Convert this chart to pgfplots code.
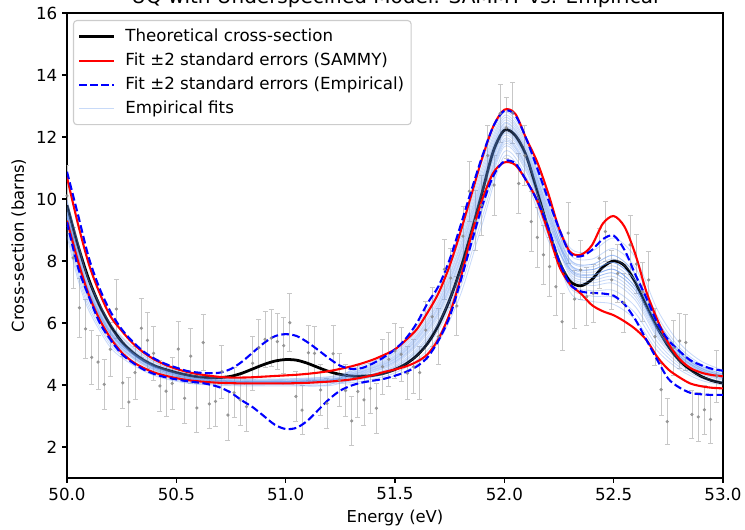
\documentclass[border=0pt]{standalone}
\usepackage{fontspec}
\setmainfont{DejaVu Sans}
\usepackage{pgfplots}
\usepackage{pgfplotstable}
\pgfplotsset{compat=1.18}
\definecolor{empblue}{RGB}{100,149,237}

\pgfplotstableread{
x y e
50.000 10.10 0.97
50.028 8.10 0.97
50.057 6.49 0.95
50.085 5.81 0.94
50.113 4.89 0.88
50.142 4.74 0.87
50.170 4.02 0.80
50.198 5.15 0.87
50.226 6.45 0.95
50.255 4.07 0.84
50.283 3.45 0.80
50.311 4.40 0.85
50.340 5.83 0.95
50.368 5.44 0.90
50.396 5.02 0.88
50.425 3.97 0.82
50.453 3.80 0.82
50.481 4.05 0.84
50.509 5.16 0.89
50.538 3.57 0.80
50.566 4.93 0.88
50.594 3.26 0.78
50.623 5.37 0.90
50.651 3.39 0.79
50.679 3.47 0.80
50.708 4.43 0.86
50.736 3.03 0.81
50.764 3.75 0.81
50.792 3.52 0.82
50.821 3.30 0.80
50.849 4.70 0.88
50.877 5.20 0.91
50.906 5.47 0.90
50.934 5.51 0.92
50.962 5.40 0.90
50.991 5.27 0.90
51.019 6.01 0.94
51.047 3.63 0.81
51.075 3.19 0.80
51.104 5.04 0.88
51.132 5.02 0.88
51.160 3.84 0.83
51.189 3.41 0.81
51.217 5.01 0.90
51.245 4.16 0.85
51.274 3.82 0.84
51.302 2.84 0.79
51.330 3.79 0.83
51.358 3.52 0.82
51.387 3.89 0.81
51.415 3.25 0.81
51.443 4.59 0.88
51.472 4.83 0.88
51.500 5.10 0.89
51.528 4.99 0.88
51.557 4.38 0.86
51.585 4.59 0.87
51.613 4.40 0.86
51.641 5.77 0.93
51.670 6.20 0.94
51.698 5.56 0.90
51.726 7.73 0.96
51.755 7.45 0.96
51.783 6.55 0.95
51.811 8.80 0.97
51.840 10.25 0.97
51.868 9.30 0.97
51.896 9.80 0.97
51.924 11.40 0.96
51.953 10.45 0.97
51.981 12.76 0.95
52.009 12.30 0.98
52.038 12.78 0.98
52.066 10.50 0.97
52.094 11.40 0.97
52.123 9.27 0.96
52.151 8.76 0.96
52.179 8.20 0.96
52.207 7.82 0.95
52.236 7.17 0.94
52.264 6.04 0.93
52.292 8.90 0.98
52.321 6.77 0.94
52.349 7.71 0.95
52.377 6.85 0.94
52.406 6.96 0.94
52.434 8.09 0.96
52.462 8.95 0.97
52.491 7.39 0.95
52.519 7.60 0.95
52.547 6.65 0.94
52.575 8.52 0.96
52.604 7.90 0.96
52.632 7.00 0.95
52.660 7.39 0.91
52.689 5.56 0.92
52.717 3.85 0.84
52.745 2.82 0.75
52.774 5.20 0.89
52.802 5.42 0.90
52.830 5.37 0.90
52.858 3.05 0.78
52.887 2.97 0.78
52.915 3.20 0.79
52.943 2.89 0.78
52.972 4.28 0.85
}\pts

\pgfplotstableread{
x th su sl eu el
50.00 9.80 10.70 9.30 10.88 9.25
50.05 8.50 9.20 8.00 9.50 7.80
50.10 7.40 7.90 6.90 8.10 6.85
50.15 6.55 6.95 6.10 7.10 6.00
50.20 5.90 6.20 5.50 6.35 5.45
50.25 5.40 5.75 5.05 5.80 5.00
50.30 5.05 5.35 4.75 5.40 4.72
50.35 4.80 5.05 4.55 5.08 4.50
50.40 4.62 4.82 4.40 4.85 4.35
50.45 4.50 4.65 4.30 4.68 4.25
50.50 4.40 4.52 4.22 4.56 4.18
50.55 4.32 4.42 4.16 4.45 4.12
50.60 4.26 4.35 4.12 4.40 4.08
50.65 4.24 4.30 4.09 4.38 4.02
50.70 4.24 4.26 4.07 4.40 3.92
50.75 4.28 4.24 4.06 4.52 3.75
50.80 4.38 4.24 4.05 4.75 3.50
50.85 4.52 4.25 4.05 5.05 3.28
50.90 4.66 4.27 4.05 5.35 3.00
50.95 4.77 4.29 4.05 5.57 2.72
51.00 4.82 4.31 4.05 5.64 2.58
51.05 4.80 4.33 4.06 5.58 2.62
51.10 4.70 4.36 4.07 5.38 2.85
51.15 4.56 4.40 4.09 5.12 3.20
51.20 4.43 4.45 4.11 4.85 3.55
51.25 4.34 4.52 4.14 4.62 3.82
51.30 4.29 4.60 4.18 4.52 3.98
51.35 4.28 4.70 4.24 4.55 4.08
51.40 4.31 4.82 4.32 4.70 4.14
51.45 4.38 4.97 4.42 4.90 4.20
51.50 4.50 5.15 4.50 5.15 4.30
51.55 4.68 5.45 4.60 5.50 4.42
51.60 4.95 5.80 4.75 6.00 4.60
51.65 5.35 6.35 5.00 6.65 4.90
51.70 5.95 6.98 5.50 7.20 5.45
51.75 6.75 7.85 6.30 8.05 6.20
51.80 7.75 8.95 7.45 9.15 7.35
51.85 8.95 10.15 8.85 10.30 8.60
51.90 10.25 11.35 10.00 11.40 9.80
51.95 11.55 12.35 10.85 12.35 10.75
52.00 12.22 12.88 11.18 12.85 11.22
52.05 12.05 12.75 11.10 12.70 11.15
52.10 11.40 11.95 10.60 11.95 10.60
52.15 10.25 11.20 9.95 11.00 9.95
52.20 9.05 10.20 8.95 10.00 9.10
52.25 8.00 9.05 7.85 9.05 8.00
52.30 7.35 8.30 7.25 8.25 7.25
52.35 7.20 8.20 6.95 8.15 7.02
52.40 7.40 8.50 6.58 8.35 6.97
52.45 7.80 9.20 6.38 8.70 6.95
52.50 8.00 9.45 6.25 8.82 6.88
52.55 7.85 9.10 6.05 8.35 6.60
52.60 7.30 8.20 5.80 7.55 6.10
52.65 6.55 7.00 5.45 6.80 5.45
52.70 5.85 6.10 4.90 6.00 4.80
52.75 5.25 5.35 4.50 5.45 4.20
52.80 4.80 4.85 4.25 5.10 3.92
52.85 4.50 4.55 4.05 4.80 3.75
52.90 4.28 4.40 3.96 4.64 3.70
52.95 4.14 4.32 3.91 4.52 3.68
53.00 4.06 4.28 3.89 4.46 3.68
}\main

\pgfplotstableread{
x e1 e2 e3 e4 e5 e6 e7 e8 e9 e10 e11 e12 e13 e14 e15 e16 e17 e18 e19 e20
50.00 9.19 9.58 9.06 9.45 9.71 9.32 9.52 9.39 9.65 9.45 9.26 9.58 9.78 9.45 9.32 9.91 9.52 9.97 8.93 8.80
50.05 7.81 8.21 7.67 8.08 8.35 7.94 8.14 8.01 8.28 8.08 7.87 8.21 8.41 8.08 7.94 8.55 8.14 8.62 7.54 7.40
50.10 6.73 7.06 6.62 6.95 7.17 6.84 7.01 6.90 7.12 6.95 6.79 7.06 7.23 6.95 6.84 7.34 7.01 7.39 6.51 6.40
50.20 5.46 5.71 5.37 5.63 5.80 5.54 5.67 5.58 5.75 5.63 5.50 5.71 5.84 5.63 5.54 5.92 5.67 5.97 5.29 5.20
50.30 4.85 5.04 4.78 4.98 5.11 4.91 5.01 4.94 5.07 4.98 4.88 5.04 5.14 4.98 4.91 5.20 5.01 5.24 4.72 4.65
50.40 4.45 4.60 4.40 4.55 4.65 4.50 4.58 4.53 4.63 4.55 4.48 4.60 4.68 4.55 4.50 4.73 4.58 4.75 4.35 4.30
50.50 4.23 4.35 4.20 4.31 4.39 4.27 4.33 4.29 4.37 4.31 4.25 4.35 4.41 4.31 4.27 4.44 4.33 4.46 4.16 4.12
50.60 4.11 4.20 4.08 4.17 4.23 4.14 4.19 4.16 4.22 4.17 4.13 4.20 4.25 4.17 4.14 4.28 4.19 4.29 4.05 4.02
50.80 4.05 4.12 4.02 4.10 4.15 4.07 4.11 4.08 4.13 4.10 4.06 4.12 4.16 4.10 4.07 4.18 4.11 4.20 4.00 3.97
51.00 4.05 4.12 4.02 4.10 4.15 4.07 4.11 4.08 4.13 4.10 4.06 4.12 4.16 4.10 4.07 4.18 4.11 4.20 4.00 3.97
51.20 4.08 4.17 4.04 4.14 4.20 4.11 4.16 4.12 4.19 4.14 4.09 4.17 4.22 4.14 4.11 4.25 4.16 4.27 4.01 3.98
51.30 4.03 4.08 4.13 4.15 4.19 4.21 4.24 4.26 4.28 4.29 4.31 4.33 4.34 4.36 4.38 4.40 4.43 4.45 4.49 4.18
51.40 4.12 4.19 4.26 4.29 4.35 4.37 4.42 4.44 4.47 4.49 4.51 4.54 4.56 4.58 4.61 4.64 4.68 4.71 4.76 4.33
51.50 4.30 4.39 4.48 4.52 4.59 4.63 4.68 4.72 4.75 4.77 4.81 4.84 4.86 4.90 4.93 4.97 5.02 5.06 5.12 4.57
51.60 4.67 4.80 4.94 5.01 5.11 5.17 5.25 5.30 5.34 5.38 5.44 5.48 5.52 5.57 5.61 5.68 5.75 5.82 5.91 5.07
51.70 5.40 5.59 5.78 5.87 6.02 6.10 6.21 6.29 6.35 6.40 6.48 6.54 6.59 6.67 6.73 6.82 6.92 7.01 7.14 5.97
51.80 6.92 7.15 7.38 7.49 7.67 7.77 7.90 8.00 8.07 8.13 8.23 8.30 8.36 8.46 8.53 8.64 8.76 8.87 9.03 7.61
51.90 9.21 9.43 9.65 9.76 9.94 10.02 10.16 10.24 10.31 10.38 10.46 10.53 10.60 10.68 10.75 10.86 10.97 11.08 11.23 9.87
52.00 11.38 11.53 11.69 11.77 11.89 11.95 12.04 12.11 12.15 12.20 12.26 12.31 12.35 12.42 12.46 12.54 12.62 12.70 12.80 11.84
52.10 10.58 10.73 10.88 10.95 11.07 11.13 11.22 11.28 11.33 11.37 11.43 11.48 11.52 11.58 11.63 11.70 11.78 11.85 11.96 11.03
52.20 8.68 8.83 8.98 9.05 9.17 9.23 9.32 9.38 9.43 9.47 9.53 9.58 9.62 9.68 9.73 9.80 9.88 9.95 10.06 9.13
52.30 7.45 7.15 7.75 7.30 7.68 7.98 7.53 7.83 7.60 7.90 7.75 8.05 7.68 7.90 8.20 7.75 8.05 8.43 7.90 7.00
52.40 7.21 6.87 7.55 7.04 7.47 7.81 7.30 7.64 7.38 7.72 7.55 7.89 7.47 7.72 8.06 7.55 7.89 8.32 7.72 6.70
52.50 7.28 6.83 7.73 7.05 7.61 8.06 7.39 7.84 7.50 7.95 7.73 8.18 7.61 7.95 8.40 7.73 8.18 8.74 7.95 6.60
52.60 6.73 6.31 7.15 6.52 7.05 7.47 6.84 7.26 6.94 7.36 7.15 7.57 7.05 7.36 7.78 7.15 7.57 8.10 7.36 6.10
52.70 5.52 5.24 5.80 5.38 5.73 6.01 5.59 5.87 5.66 5.94 5.80 6.08 5.73 5.94 6.22 5.80 6.08 6.43 5.94 5.10
52.80 4.77 4.59 4.95 4.68 4.91 5.09 4.82 5.00 4.86 5.04 4.95 5.13 4.91 5.04 5.22 4.95 5.13 5.36 5.04 4.50
52.90 4.35 4.22 4.48 4.28 4.44 4.57 4.38 4.51 4.41 4.54 4.48 4.61 4.44 4.54 4.67 4.48 4.61 4.77 4.54 4.15
53.00 4.15 4.05 4.25 4.10 4.23 4.33 4.18 4.28 4.20 4.30 4.25 4.35 4.23 4.30 4.40 4.25 4.35 4.48 4.30 4.00
}\emp

\pgfplotsset{empfit/.style={color=empblue, line width=0.6pt, opacity=0.35, smooth}}

\begin{document}
\begin{tikzpicture}
\begin{axis}[
  at={(0,0)}, anchor=south west,
  scale only axis, width=472.32pt, height=334.8pt,
  xmin=50, xmax=53, ymin=1, ymax=16,
  xtick={50,50.5,51,51.5,52,52.5,53},
  ytick={2,4,6,8,10,12,14,16},
  tick align=outside, tick pos=left,
  major tick length=3.5pt,
  every tick/.style={black, line width=0.8pt},
  axis line style={line width=0.8pt},
  /pgf/number format/assume math mode=true,
  xticklabel style={/pgf/number format/.cd, fixed, fixed zerofill, precision=1},
  tick label style={font=\fontsize{12}{14}\selectfont},
  label style={font=\fontsize{11.8}{14}\selectfont},
  xlabel={Energy (eV)},
  ylabel={Cross-section (barns)},
  xlabel style={at={(axis description cs:0.5,0)}, anchor=base, yshift=-32.4pt},
  ylabel style={at={(axis description cs:-0.0656,0.5)}, anchor=base},
  legend cell align=left,
  legend image code/.code={\draw[#1] (0pt,0pt) -- (25pt,0pt);},
  legend style={
    at={(axis description cs:0.0091,0.985)}, anchor=north west,
    draw=black!20, line width=0.8pt, rounded corners=2.5pt,
    fill=white, fill opacity=0.8, draw opacity=1, text opacity=1,
    font=\fontsize{12}{14}\selectfont,
    inner xsep=3pt, inner ysep=3.3pt,
    row sep=0.8pt, column sep=5.4pt,
    nodes={inner sep=2pt, text height=9.5pt, text depth=3pt},
  },
]
\addplot[forget plot, only marks, mark=*, mark size=1pt,
  mark options={fill=black!45, draw=black!45, opacity=0.8},
  error bars/.cd, y dir=both, y explicit,
  error bar style={black!22, line width=0.6pt},
  error mark options={rotate=90, black!22, mark size=1.8pt, line width=0.6pt}
  ] table[x=x, y=y, y error=e] {\pts};

\addplot[black, line width=2pt, smooth] table[x=x, y=th] {\main};
\addlegendentry{Theoretical cross-section}

\pgfplotsinvokeforeach{1,...,20}{
  \addplot[empfit, forget plot] table[x=x, y=e#1] {\emp};
}

\addplot[red, line width=1.5pt, smooth] table[x=x, y=su] {\main};
\addlegendentry{Fit ±2 standard errors (SAMMY)}
\addplot[red, line width=1.5pt, smooth, forget plot] table[x=x, y=sl] {\main};

\addplot[blue, line width=1.5pt, dash pattern=on 5.55pt off 2.4pt, smooth] table[x=x, y=eu] {\main};
\addlegendentry{Fit ±2 standard errors (Empirical)}
\addplot[blue, line width=1.5pt, dash pattern=on 5.55pt off 2.4pt, smooth, forget plot] table[x=x, y=el] {\main};

\addlegendimage{empfit}
\addlegendentry{Empirical fits}
\end{axis}
\node[anchor=base, font=\fontsize{14.4}{17}\selectfont, inner sep=0pt] at (236.16pt,341.3pt) {UQ with Underspecified Model: SAMMY vs. Empirical};
\pgfresetboundingbox
\path[use as bounding box] (-48.24pt,-37.44pt) rectangle (488.16pt,344.16pt);
\end{tikzpicture}
\end{document}
